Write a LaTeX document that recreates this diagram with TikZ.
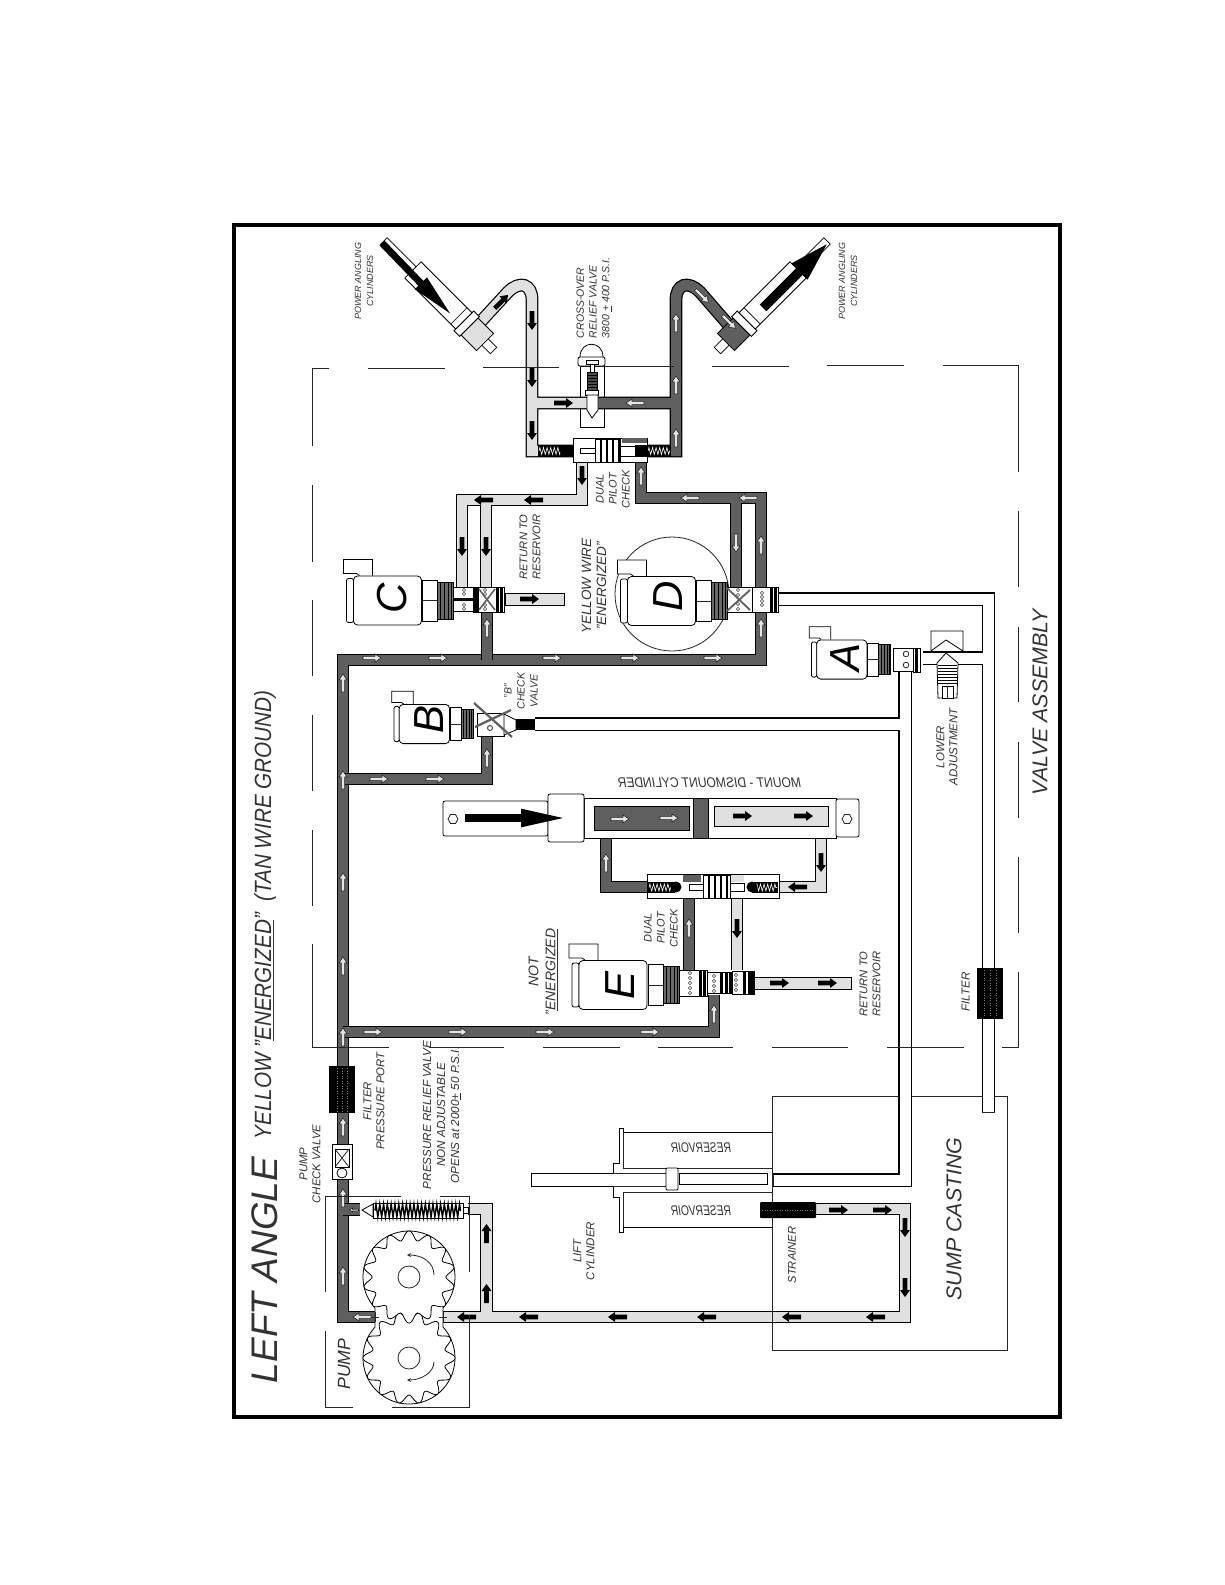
\documentclass[tikz,border=0pt]{standalone}
\usepackage{fontspec}
\setmainfont{Liberation Sans}
\usepackage{tikz}
\usetikzlibrary{decorations.pathmorphing}
\definecolor{pipegray}{HTML}{5F5F5F}
\definecolor{pipelight}{HTML}{E0E0E0}
\definecolor{threadgray}{HTML}{6A6A6A}
\newcommand{\dotrow}[2]{\foreach \yy in {#2} \draw[thin, fill=white] (#1,\yy) circle (1.6);}
\newcommand{\bandrow}[3]{\foreach \xx in {#1} \fill[black] (\xx,#2) rectangle (\xx+3,#3);}
\begin{document}
\begin{tikzpicture}[
        x=1pt, y=-1pt,
        part/.style={draw=black, fill=white, line width=0.8pt},
        thin line/.style={draw=black!85, line width=0.8pt},
        pipedark/.style={preaction={draw=black, line width=12.8pt}, draw=pipegray, line width=10.4pt, line join=miter},
        pipelite/.style={preaction={draw=black, line width=12.8pt}, draw=pipelight, line width=10.4pt, line join=miter},
        pipewhite/.style={preaction={draw=black, line width=13.4pt}, draw=white, line width=11pt, line join=miter},
        coil/.style={decorate, decoration={zigzag, amplitude=3.5pt, segment length=3.6pt}, draw=white, line width=0.6pt},
        side/.style={rotate=90, align=center, inner sep=0pt, text=black!80},
        note/.style 2 args={font=\itshape\fontsize{#1}{#2}\selectfont},
        pics/flowblack/.style={code={\fill[black] (-9,-2.3) -- (3,-2.3) -- (3,-5) -- (10,0) -- (3,5) -- (3,2.3) -- (-9,2.3) -- cycle;}},
        pics/flowwhite/.style={code={\draw[draw=black!85, fill=white!90!black, line width=0.6pt] (-9,-1.6) -- (3,-1.6) -- (3,-4) -- (9,0) -- (3,4) -- (3,1.6) -- (-9,1.6) -- cycle;}},
        pics/bigflow/.style={code={\fill[black] (0,-3.5) -- (56,-3.5) -- (56,-8.5) -- (98,0) -- (56,8.5) -- (56,3.5) -- (0,3.5) -- cycle;}},
        pics/solenoid/.style={code={
            \draw[part] (-62,-25) -- (-65,-27) -- (-78,-27) -- (-78,-41) -- (-49,-41) -- (-49,-25);
            \draw[part, rounded corners=2pt] (-75,-22) rectangle (-68,22);
            \draw[part, rounded corners=4pt] (-68,-24.5) rectangle (0,24.5);
            \draw[part] (1,-20.5) rectangle (16,20.5);
            \draw[thin line] (1,0) -- (16,0);
            \draw[draw=black, fill=threadgray, line width=0.8pt] (16,-18.5) rectangle (32,18.5);
            \foreach \rib in {19,23,27,30} \draw[black, line width=0.6pt] (\rib,-18.5) -- (\rib,18.5);
        }},
        pics/anglecyl/.style={code={
            \draw[part] (-22,-4.5) rectangle (-8,4.5);
            \draw[draw=black, fill=#1, line width=0.8pt] (-10,-12) rectangle (12,12);
            \draw[part] (12,-14) rectangle (20,14);
            \draw[part] (20,-11.5) rectangle (92,11.5);
            \draw[thin line] (27,-11.5) -- (27,11.5);
            \draw[part] (92,-4.5) rectangle (133,4.5);
        }}
    ]
    \useasboundingbox (0,0) rectangle (1225,1585);
    \fill[white] (0,0) rectangle (1225,1585);

    % Outer frame
    \draw[black, line width=4.5pt] (234,225) rectangle (1060,1417);

    % Sump casting
    \draw[thin line] (772,1096) rectangle (1007,1350);

    % Lift cylinder and reservoirs
    \draw[part] (772,1132) -- (623,1132) -- (623,1128) -- (619,1128) -- (619,1163) -- (613,1163) -- (613,1173) -- (531,1173) -- (531,1186) -- (613,1186) -- (613,1197) -- (619,1197) -- (619,1232) -- (623,1232) -- (623,1227) -- (772,1227) -- cycle;
    \draw[thin line] (623,1168) -- (772,1168) (623,1192) -- (772,1192) (613,1173) -- (666,1173) (613,1186) -- (666,1186) (623,1132) -- (623,1168) (623,1192) -- (623,1227);
    \draw[part, rounded corners=1pt] (666,1168) rectangle (678,1190);
    \draw[part] (679,1173) rectangle (767,1184);

    % Cross-over relief valve body (under the pipes)
    \draw[part] (580,366) rectangle (604,427);

    % Return lines without oil
    \path[pipewhite] (778,599) -- (988.5,599) -- (988.5,1112) (923,658) -- (988.5,658);
    \path[pipewhite] (535,724) -- (905,724) (905,672) -- (905,1180) -- (773,1180);
    \draw[thin line] (982,1112) -- (995,1112) (773,1174) -- (773,1186);

    % Pressure lines
    \path[pipedark] (375,1317) -- (343,1317) -- (343,660) -- (761,660) -- (761,612);
    \path[pipedark] (761,590) -- (761,498) -- (641,498) -- (641,460) (736,498) -- (736,587);
    \path[pipedark] (343,1209.5) -- (360,1209.5) (343,779) -- (487,779) -- (487,733) (343,1032) -- (714,1032) -- (714,995) (487,660) -- (487,612);
    \path[pipedark] (640,451) -- (676,451) -- (676,300) .. controls (676,284) and (688,280) .. (700,292) -- (733,330) (676,403) -- (598,403);
    \path[pipedark] (606,838) -- (606,887) -- (648,887) (689,893) -- (689,970);

    % Return lines with oil
    \path[pipelite] (574,451) -- (532,451) -- (532,300) .. controls (532,284) and (520,280) .. (508,292) -- (473,330) (532,403) -- (587,403);
    \path[pipelite] (582,459) -- (582,500) -- (462,500) -- (462,587) (486,500) -- (486,587);
    \path[pipelite] (821,838) -- (821,887) -- (779,887) (737,895) -- (737,970);
    \path[pipelite] (443,1317) -- (905,1317) -- (905,1209) -- (816,1209) (486.5,1317) -- (486.5,1209) -- (468,1209);
    \draw[draw=black, fill=pipelight, line width=0.8pt] (505,593) rectangle (564,605);
    \draw[draw=black, fill=pipelight, line width=0.8pt] (754,977) rectangle (851,989);
    \draw[thin line] (772,1096) -- (772,1350);

    % Power angling cylinders
    \pic[rotate=135] at (478,335) {anglecyl=pipelight};
    \pic[rotate=45] at (733,335) {anglecyl=pipegray};
    \pic[rotate=-46] at (382,243) {bigflow};
    \pic[rotate=45, xscale=0.92, yscale=1.35] at (763,308) {bigflow};

    % Cross-over relief valve
    \draw[part] (580,357) .. controls (580,340) and (603,340) .. (603,357);
    \draw[part, rounded corners=2pt] (578,357) rectangle (605,366);
    \draw[part] (586,360) rectangle (598,364);
    \draw[part] (590,364) rectangle (594,372);
    \draw[draw=black, fill=black!70, line width=0.8pt] (587,372) rectangle (597,390);
    \foreach \rib in {375,378,...,390} \draw[black, line width=0.8pt] (587,\rib) -- (597,\rib);
    \draw[part] (585,390) rectangle (598,395);
    \draw[part] (587,395) -- (598,395) -- (598,410) -- (592,418) -- (587,410) -- cycle;

    % Upper dual pilot check
    \draw[part] (573,438) rectangle (647,462);
    \fill[pipegray] (622,438) rectangle (647,443);
    \draw[part] (595,439) rectangle (620,462);
    \foreach \xx in {600,606,612,618} \fill[black] (\xx,439) rectangle (\xx+1.6,462);
    \draw[part] (580,448) rectangle (595,453);
    \draw[part] (620,446) rectangle (635,456);
    \fill[black] (538,445) rectangle (573,457);
    \fill[black] (635,445) rectangle (671,457);
    \draw[coil] (539,451) -- (561,451);
    \draw[coil] (648,451) -- (670,451);
    \fill[black] (566,451) circle (6);
    \fill[black] (642,451) circle (6);

    % Lower dual pilot check
    \draw[part] (647,874) rectangle (779,898);
    \fill[pipegray] (683,875) rectangle (701,882);
    \fill[pipelight] (730,875) rectangle (744,882);
    \draw[part] (703,875) rectangle (730,898);
    \foreach \xx in {708,714,720,726} \fill[black] (\xx,875) rectangle (\xx+1.6,898);
    \draw[part] (689,884) rectangle (703,890);
    \draw[part] (730,883) rectangle (744,891);
    \fill[black] (648,882) rectangle (675,893);
    \fill[black] (752,882) rectangle (778,893);
    \draw[coil] (649,887.5) -- (672,887.5);
    \draw[coil] (756,887.5) -- (777,887.5);
    \fill[black] (676,887) circle (5.5);
    \fill[black] (752,887) circle (5.5);

    % Mount - dismount cylinder
    \draw[part] (584,798) rectangle (836,838);
    \draw[draw=black, fill=pipegray, line width=0.8pt] (594,806) rectangle (689,830);
    \draw[draw=black, fill=pipelight, line width=0.8pt] (714,806) rectangle (828,826);
    \draw[draw=black, fill=pipegray, line width=0.8pt] (693,798) rectangle (708,838);
    \draw[part, rounded corners=2pt] (443,801) rectangle (548,836);
    \draw[part, rounded corners=2pt] (548,794) rectangle (584,842);
    \draw[part, rounded corners=2pt] (836,799) rectangle (859,837);
    \draw[thin line] (448,819) -- (450.5,814.5) -- (455.5,814.5) -- (458,819) -- (455.5,823.5) -- (450.5,823.5) -- cycle;
    \draw[thin line] (842,819) -- (844.5,814.5) -- (849.5,814.5) -- (852,819) -- (849.5,823.5) -- (844.5,823.5) -- cycle;
    \pic[yscale=1.1] at (465,818) {bigflow};

    % Solenoid valves
    \draw[thin line] (672,594) circle (57);
    \pic at (421.5,600.5) {solenoid};
    \pic at (695.5,601) {solenoid};
    \pic at (647,985) {solenoid};
    \pic[xscale=0.74, yscale=0.8] at (867,659.5) {solenoid};
    \pic[xscale=0.74, yscale=0.8] at (449.5,724) {solenoid};
    \node[note={42}{44}, rotate=90, inner sep=0pt] (letterC) at (392,598) {C};
    \node[note={42}{44}, rotate=90, inner sep=0pt] (letterD) at (668,596) {D};
    \node[note={42}{44}, rotate=90, inner sep=0pt] (letterE) at (620,985) {E};
    \node[note={42}{44}, rotate=90, inner sep=0pt] (letterA) at (845,657) {A};
    \node[note={42}{44}, rotate=90, inner sep=0pt] (letterB) at (429,719) {B};

    % Valve C cartridge
    \draw[part] (453,587) rectangle (473,611);
    \dotrow{464}{590,594,605,609}
    \draw[part] (473,587) rectangle (504,612);
    \bandrow{473,476,496,500}{587}{612}
    \dotrow{485}{590,594,605,609}
    \draw[pipegray, line width=1.6pt] (479,589) -- (495,610) (479,610) -- (495,589);
    \fill[black] (453,597.5) rectangle (477,601);

    % Valve D cartridge
    \draw[part] (727,587) rectangle (752,612);
    \dotrow{738}{590,595,604,609}
    \draw[pipegray, line width=1.8pt] (727,588) -- (750,610) (727,611) -- (750,590);
    \draw[part] (752,587) rectangle (778,612);
    \dotrow{762}{593,597,601,605}
    \bandrow{770,774}{587}{612}

    % Valve A cartridge
    \draw[part] (893,648) rectangle (913,671);
    \draw[thin line] (906,654) circle (2.8) (906,665) circle (2.8);
    \draw[part] (913,648) rectangle (920,672);
    \bandrow{915}{648}{672}

    % Valve B cartridge and check
    \draw[part] (477,713) rectangle (504,736);
    \draw[thin line] (490,728) circle (2.5);
    \draw[part] (504,714) -- (516,720) -- (516,730) -- (504,735) -- cycle;
    \fill[black] (516,719) rectangle (535,730);
    \draw[pipegray, line width=2.2pt] (474,703) -- (512,737) (475,727) -- (511,710);

    % Valve E cartridges
    \draw[part] (679,970) rectangle (707,996);
    \dotrow{690}{973,978,983,988,993}
    \bandrow{699,703}{970}{996}
    \draw[part] (707,972) rectangle (732,993);
    \dotrow{714}{976,981,986,991}
    \bandrow{720,725,729}{972}{993}
    \draw[part] (732,971) rectangle (754,994);
    \dotrow{736}{975,980,985,990}
    \bandrow{743,748,751}{971}{994}

    % Lower adjustment
    \draw[part] (931,631) -- (963,631) -- (963,651) -- (946,640) -- (931,651) -- cycle;
    \draw[part] (937,663) -- (946,653) -- (958,663) -- (957,698) -- (938,698) -- cycle;
    \foreach \rib in {665,668,...,683} \draw[black, line width=0.8pt] (938,\rib) -- (957,\rib);
    \draw[part] (942,686) rectangle (953,698);
    \draw[thin line] (947.5,686) -- (947.5,698);

    % Filters and strainer
    \fill[black] (329,1066) rectangle (355,1113);
    \fill[black] (977,968) rectangle (1003,1019);
    \fill[black, rounded corners=1pt] (760,1202) rectangle (816,1218);
    \foreach \xx in {337,342,347} \draw[black!50, line width=0.5pt, dotted] (\xx,1068) -- (\xx,1111);
    \foreach \xx in {984,990,996} \draw[black!50, line width=0.5pt, dotted] (\xx,970) -- (\xx,1017);
    \draw[black!50, line width=0.5pt, dotted] (762,1210) -- (814,1210);

    % Pump check valve
    \draw[part] (332,1144) rectangle (352,1179);
    \draw[part] (335,1149) rectangle (349,1167);
    \draw[thin line] (335,1149) -- (349,1167) (335,1167) -- (349,1149);
    \draw[part] (342,1173) circle (5);

    % Pressure relief valve
    \draw[part] (373,1204) -- (362,1210) -- (373,1217) -- cycle;
    \draw[part] (373,1203) rectangle (463,1218);
    \draw[decorate, decoration={zigzag, amplitude=6.5pt, segment length=3.8pt}, black, line width=1.4pt] (375,1210.5) -- (461,1210.5);
    \draw[part] (463,1207) rectangle (468,1213);

    % Gear pump
    \draw[part] plot[domain=137.7:402.3, samples=60] ({409+46*cos(\x)},{1277+46*sin(\x)}) -- plot[domain=-42.3:222.3, samples=60] ({409+46*cos(\x)},{1358+46*sin(\x)}) -- cycle;
    \draw[part] plot[domain=0:360, samples=361] ({409+(41.5+4.5*cos(14*(\x-270)+180))*cos(\x)},{1358+(41.5+4.5*cos(14*(\x-270)+180))*sin(\x)}) -- cycle;
    \draw[part] plot[domain=0:360, samples=361] ({409+(41.5+4.5*cos(14*(\x-90)))*cos(\x)},{1277+(41.5+4.5*cos(14*(\x-90)))*sin(\x)}) -- cycle;
    \draw[thin line] (409,1277) circle (11) (409,1358) circle (11);
    \draw[thin line, -stealth] (434,1275) .. controls (434,1262) and (422,1255) .. (407,1255);
    \draw[thin line, -stealth] (434,1362) .. controls (434,1372) and (422,1380) .. (407,1380);
    \draw[thin line] (375,1312) -- (375,1322) (371,1317) -- (379,1317) (443,1312) -- (443,1322) (439,1317) -- (447,1317);

    % Flow arrows on pressure lines
    \foreach \x/\y/\a in {343/683/90, 343/780/90, 343/882/90, 343/966/90, 343/1037/90, 343/1127/90, 343/1198/90, 343/1276/90,
        362/1317/180, 372/658/0, 438/658/0, 552/658/0, 630/658/0, 713/658/0, 379/779/0, 435/779/0, 487/758/90,
        373/1032/0, 458/1032/0, 545/1032/0, 650/1032/0, 714/1014/90, 487/628/90, 761/545/90, 761/628/90, 736/543/-90,
        690/498/180, 748/498/180, 641/476/90, 676/323/90, 676/385/90, 676/438/90, 702/296/-45, 729/322/-45, 635/403/180,
        620/819/0, 669/818/0, 606/863/90, 689/928/90}
        \pic[rotate=\a] at (\x,\y) {flowwhite};
    \pic[rotate=180, scale=0.5] at (354,1210) {flowwhite};

    % Flow arrows on return lines
    \foreach \x/\y/\a in {532/320/-90, 532/377/-90, 532/430/-90, 501/302/45, 563/403/0, 582/475/-90, 534/500/180, 484/500/180,
        462/546/-90, 486/546/-90, 529/599/0, 742/816/0, 803/816/0, 821/862/-90, 798/887/180, 737/928/-90, 779/983/0, 827/983/0,
        486.5/1234/90, 486.5/1294/90, 467/1317/180, 529/1317/180, 618/1317/180, 707/1317/180, 792/1317/180, 876/1317/180,
        905/1227/-90, 905/1287/-90, 838/1210/0, 882/1210/0}
        \pic[rotate=\a] at (\x,\y) {flowblack};

    % Valve assembly outline
    \draw[thin line] (329,368) -- (312,368) -- (312,446) (312,485) -- (312,562) (312,600) -- (312,676) (312,715) -- (312,791) (312,830) -- (312,906) (312,944) -- (312,1047) -- (389,1047);
    \draw[thin line] (368,368) -- (445,368) (483,367) -- (559,367) (598,366) -- (674,366) (712,366) -- (789,366) (827,365) -- (904,365) (943,365) -- (1018,365) -- (1018,472) (1018,511) -- (1018,587) (1018,627) -- (1018,702) (1018,742) -- (1018,818) (1018,857) -- (1018,933) (1018,972) -- (1018,1047) -- (1002,1047);
    \draw[thin line] (429,1047) -- (504,1047) (543,1047) -- (620,1047) (658,1047) -- (733,1047) (772,1047) -- (848,1047) (887,1047) -- (964,1047);

    % Pump outline
    \draw[thin line] (325,1292) -- (325,1196) -- (401,1196) (440,1196) -- (469,1196) -- (469,1272) (469,1315) -- (469,1407) -- (392,1407) (353,1407) -- (325,1407) -- (325,1331);

    % Headings
    \node[side, note={37}{40}] (title) at (265,1270) {LEFT ANGLE};
    \node[side, note={23.5}{26}, xscale=0.88, transform shape] (subtitle) at (265,915) {YELLOW "\underline{ENERGIZED}"\ \ (TAN WIRE GROUND)};
    \node[side, note={21.4}{24}] (assembly) at (1040,702) {VALVE ASSEMBLY};
    \node[side, note={21.4}{24}] (sump) at (954,1219) {SUMP CASTING};
    \node[side, note={17.7}{20}] (pump) at (344,1364) {PUMP};

    % Labels
    \node[side, note={9}{12}] (cylnoteleft) at (364,281) {POWER ANGLING\\CYLINDERS};
    \node[side, note={9}{12}] (cylnoteright) at (848,281) {POWER ANGLING\\CYLINDERS};
    \node[side, note={10.5}{12.7}, align=left] (crossover) at (594,298) {CROSS-OVER\\RELIEF VALVE\\3800 \underline{+} 400 P.S.I.};
    \node[side, note={11}{13}] (pilotupper) at (613,489) {DUAL\\PILOT\\CHECK};
    \node[side, note={11}{13}] (pilotlower) at (661,928) {DUAL\\PILOT\\CHECK};
    \node[side, note={11.2}{13}] (returnupper) at (530,547) {RETURN TO\\RESERVOIR};
    \node[side, note={11.2}{13}] (returnlower) at (870,984) {RETURN TO\\RESERVOIR};
    \node[side, note={13.5}{15}] (yellowwire) at (594,586) {YELLOW WIRE\\"ENERGIZED"};
    \node[side, note={14}{17}] (notenergized) at (543,972) {NOT\\"\underline{ENERGIZED}};
    \node[side, note={10.5}{13}] (checkb) at (521,691) {"B"\\CHECK\\VALVE};
    \node[side, note={11.5}{13}] (lift) at (584,1251) {LIFT\\CYLINDER};
    \node[side, note={11.2}{13}] (strainer) at (792,1255) {STRAINER};
    \node[side, note={11.6}{13}] (filterright) at (965.5,992) {FILTER};
    \node[side, note={11.4}{13}] (filterpress) at (374,1101) {FILTER\\PRESSURE PORT};
    \node[side, note={11.4}{13}] (pumpcheck) at (310,1164) {PUMP\\CHECK VALVE};
    \node[side, note={11.7}{14}] (relief) at (442,1115) {PRESSURE RELIEF VALVE\\NON ADJUSTABLE\\OPENS at 2000\underline{+} 50 P.S.I.};
    \node[side, note={11.5}{13}] (loweradj) at (947,747) {LOWER\\ADJUSTMENT};

    % Mirrored labels
    \node[note={14}{16}, xscale=-0.86, transform shape, inner sep=0pt, text=black!80] (mountnote) at (709.5,783) {MOUNT - DISMOUNT CYLINDER};
    \node[note={14}{16}, xscale=-0.73, transform shape, inner sep=0pt, text=black!80] (resupper) at (701,1148) {RESERVOIR};
    \node[note={14}{16}, xscale=-0.73, transform shape, inner sep=0pt, text=black!80] (reslower) at (701,1211) {RESERVOIR};

\end{tikzpicture}
\end{document}
